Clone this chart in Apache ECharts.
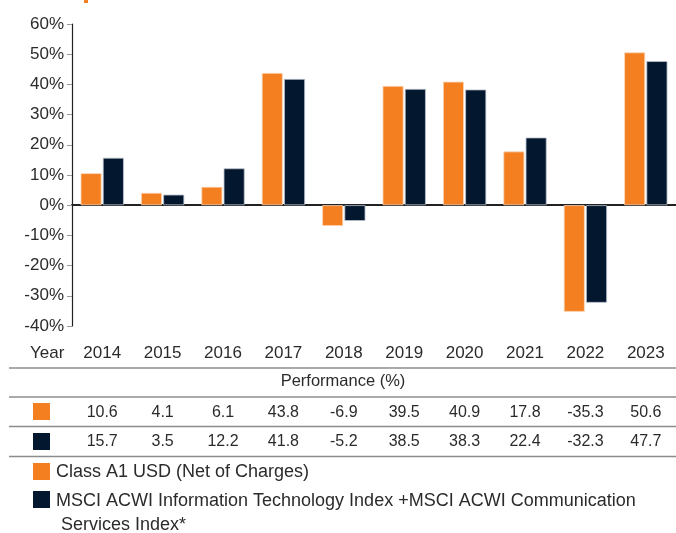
<!DOCTYPE html>
<html>
<head>
<meta charset="utf-8">
<script src="https://cdn.jsdelivr.net/npm/echarts@6/dist/echarts.min.js"></script>
<style>
  html, body { margin: 0; padding: 0; background: #fff; }
  #chart { width: 676px; height: 533px; }
</style>
</head>
<body>
<div id="chart"></div>
<script>
const years = ['2014', '2015', '2016', '2017', '2018', '2019', '2020', '2021', '2022', '2023'];
const fundValues = [10.6, 4.1, 6.1, 43.8, -6.9, 39.5, 40.9, 17.8, -35.3, 50.6];
const indexValues = [15.7, 3.5, 12.2, 41.8, -5.2, 38.5, 38.3, 22.4, -32.3, 47.7];
const seriesNames = ['Class A1 USD (Net of Charges)', 'MSCI ACWI Information Technology Index +MSCI ACWI Communication\n Services Index*'];

const ORANGE = '#f47f20';
const NAVY = '#03172e';
const FONT = 'Liberation Sans, Arial, sans-serif';
const TXT = '#2b2b2b';

const chart = echarts.init(document.getElementById('chart'));

// bottom category axes used as table rows under the chart
function rowAxis(margin, fmt, size) {
  return {
    type: 'category',
    data: years,
    position: 'bottom',
    axisLine: { show: false, onZero: false },
    axisTick: { show: false },
    axisLabel: {
      margin: margin,
      verticalAlign: 'middle',
      fontFamily: FONT,
      fontSize: size,
      color: TXT,
      interval: 0,
      formatter: fmt,
    },
  };
}

function hline(y) {
  return {
    type: 'line',
    shape: { x1: 9, y1: y, x2: 676, y2: y },
    style: { stroke: '#8c8c8c', lineWidth: 1.6 },
  };
}

function square(x, y, color) {
  return { type: 'rect', shape: { x: x, y: y, width: 17, height: 17 }, style: { fill: color } };
}

function label(x, y, text, size, align) {
  return {
    type: 'text',
    x: x,
    y: y,
    style: {
      text: text,
      fontFamily: FONT,
      fontSize: size,
      fill: TXT,
      align: align || 'left',
      verticalAlign: 'middle',
      lineHeight: 24,
    },
  };
}

const option = {
  animation: false,
  grid: { left: 72, right: 0, top: 24, bottom: 207, containLabel: false },
  xAxis: [
    {
      type: 'category',
      data: years,
      axisLine: { onZero: true, lineStyle: { color: '#222', width: 2 } },
      axisTick: { show: false },
      axisLabel: { show: false },
    },
    rowAxis(27, null, 17),
    rowAxis(87, (v, i) => fundValues[i].toFixed(1), 16),
    rowAxis(116, (v, i) => indexValues[i].toFixed(1), 16),
  ],
  yAxis: {
    type: 'value',
    min: -40,
    max: 60,
    interval: 10,
    axisLine: { show: true, lineStyle: { color: '#222', width: 1.2 } },
    axisTick: { show: true, length: 5, lineStyle: { color: '#999' } },
    splitLine: { show: false },
    axisLabel: {
      formatter: '{value}%',
      margin: 8,
      fontFamily: FONT,
      fontSize: 17,
      color: TXT,
    },
  },
  series: [
    {
      name: seriesNames[0],
      type: 'bar',
      data: fundValues,
      barWidth: 21,
      barGap: '6%',
      itemStyle: { color: ORANGE, borderColor: '#fbd9bd', borderWidth: 0.8 },
    },
    {
      name: seriesNames[1],
      type: 'bar',
      data: indexValues,
      barWidth: 21,
      itemStyle: { color: NAVY, borderColor: '#b8c0cc', borderWidth: 0.8 },
    },
  ],
  graphic: [
    { type: 'rect', shape: { x: 84, y: 0, width: 4, height: 3 }, style: { fill: ORANGE } },
    label(30, 353, 'Year', 17),
    hline(368),
    label(343, 381, 'Performance (%)', 16.5, 'center'),
    hline(397),
    square(33, 403, ORANGE),
    hline(426.5),
    square(33, 433, NAVY),
    hline(456.5),
    square(33, 463, ORANGE),
    label(56, 472, seriesNames[0], 18),
    square(33, 491, NAVY),
    label(56, 513, seriesNames[1], 18),
  ],
};

chart.setOption(option);
</script>
</body>
</html>
